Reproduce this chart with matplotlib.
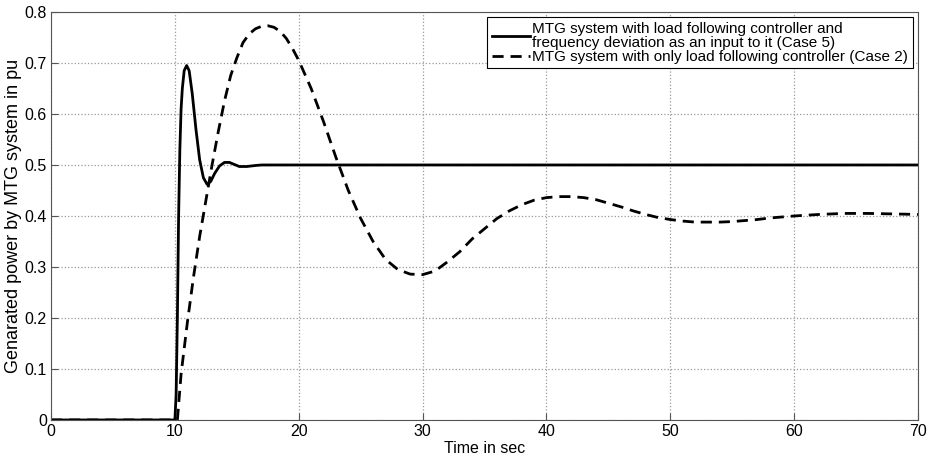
import matplotlib.pyplot as plt

plt.rcParams['font.family'] = ['Liberation Sans', 'DejaVu Sans']

# Case 5: load following controller + frequency deviation input
t_case5 = [0, 10.0, 10.1, 10.2, 10.3, 10.4, 10.5, 10.6, 10.75, 10.95, 11.15, 11.4, 11.7,
           12.0, 12.3, 12.6, 12.9, 13.2, 13.6, 14.0, 14.4, 14.8, 15.2, 15.8, 16.5, 17.0, 70]
p_case5 = [0, 0, 0.05, 0.2, 0.4, 0.53, 0.61, 0.65, 0.685, 0.695, 0.685, 0.64, 0.57,
           0.51, 0.475, 0.462, 0.468, 0.483, 0.498, 0.505, 0.505, 0.501, 0.497, 0.497, 0.499, 0.5, 0.5]

# Case 2: only load following controller
t_case2 = [0, 10.2, 10.5, 11, 11.5, 12, 12.5, 13, 13.5, 14, 14.5, 15, 15.5, 16, 16.5, 17,
           17.5, 18, 18.5, 19, 19.5, 20, 21, 22, 23, 24, 25, 26, 27, 28, 29, 30, 31, 32,
           33, 34, 35, 36, 37, 38, 39, 40, 41, 42, 43, 44, 45, 46, 47, 48, 49, 50, 51,
           52, 53, 54, 55, 56, 57, 58, 59, 60, 62, 64, 66, 68, 70]
p_case2 = [0, 0, 0.09, 0.19, 0.28, 0.36, 0.43, 0.5, 0.565, 0.625, 0.675, 0.71, 0.74, 0.757,
           0.767, 0.772, 0.773, 0.77, 0.762, 0.748, 0.728, 0.705, 0.65, 0.585, 0.515, 0.45,
           0.395, 0.35, 0.315, 0.295, 0.286, 0.285, 0.292, 0.31, 0.33, 0.355, 0.375, 0.395,
           0.41, 0.422, 0.431, 0.436, 0.438, 0.438, 0.436, 0.432, 0.425, 0.418, 0.41, 0.403,
           0.397, 0.393, 0.39, 0.388, 0.388, 0.388, 0.389, 0.391, 0.393, 0.396, 0.398, 0.4,
           0.403, 0.405, 0.405, 0.404, 0.403]

fig = plt.figure(figsize=(9.33, 4.61), dpi=100)
ax = fig.add_axes([0.0547, 0.089, 0.9293, 0.885])

ax.plot(t_case5, p_case5, 'k-', lw=2,
        label='MTG system with load following controller and\nfrequency deviation as an input to it (Case 5)')
ax.plot(t_case2, p_case2, 'k--', lw=2, dashes=(4, 2.5),
        label='MTG system with only load following controller (Case 2)')

ax.set_xlim(0, 70)
ax.set_ylim(0, 0.8)
ax.set_xticks(range(0, 71, 10))
ax.set_yticks([0, 0.1, 0.2, 0.3, 0.4, 0.5, 0.6, 0.7, 0.8])
ax.set_yticklabels(['0', '0.1', '0.2', '0.3', '0.4', '0.5', '0.6', '0.7', '0.8'])
ax.tick_params(direction='in', labelsize=11.5, length=5, color='#555555', pad=3)
ax.grid(True, linestyle=':', color='#999999', lw=0.9)
for s in ax.spines.values():
    s.set_color('#555555')

ax.set_xlabel('Time in sec', fontsize=11.5, labelpad=1)
ax.set_ylabel('Genarated power by MTG system in pu', fontsize=13, labelpad=2)

leg = ax.legend(loc='upper right', fontsize=11, fancybox=False, framealpha=1,
                edgecolor='black', handlelength=2.5, handletextpad=0.15,
                borderaxespad=0.35, labelspacing=0.0, borderpad=0.3)
leg.get_frame().set_linewidth(0.8)
for txt in leg.get_texts():
    txt.set_linespacing(1.0)

fig.savefig('out.png', dpi=100)
